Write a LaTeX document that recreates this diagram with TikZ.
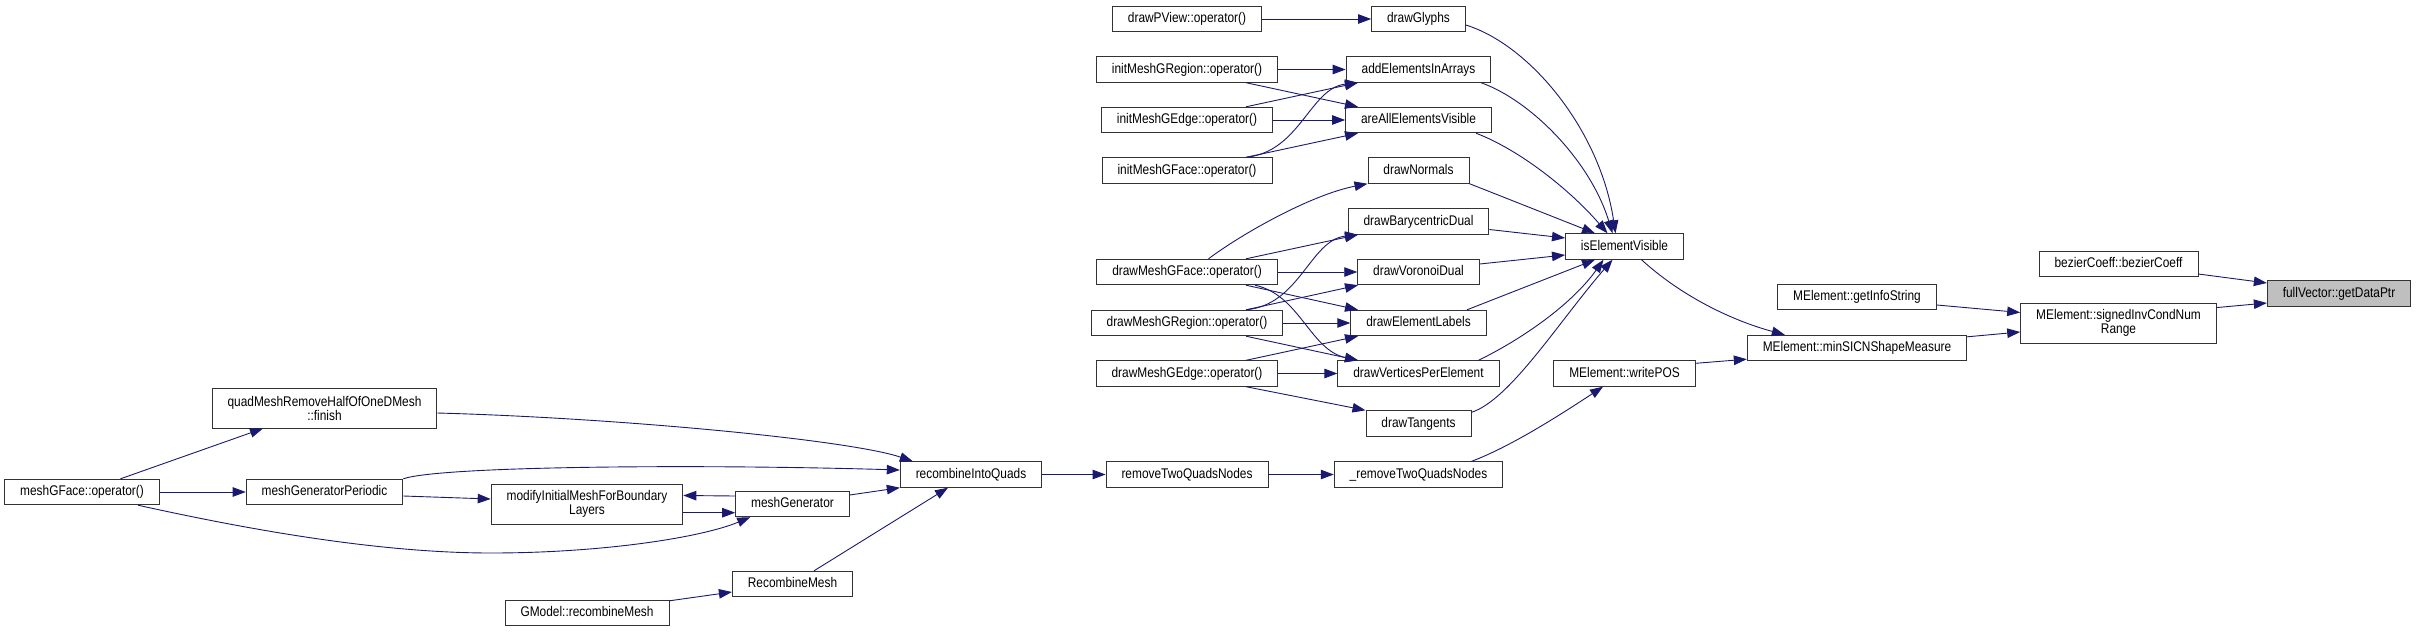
\documentclass[tikz,border=0pt]{standalone}
\usepackage{fontspec}
\setmainfont{Liberation Sans}[FakeStretch=0.85]
\usepackage{tikz}
\usetikzlibrary{positioning,arrows.meta,calc}
\definecolor{midnight}{HTML}{191970}

\begin{document}
\begin{tikzpicture}[
  x=1pt,y=-1pt,
  font=\fontsize{14}{14}\selectfont,>={Triangle[length=13pt,width=9.5pt]},
  fbase/.style={draw=black!80,fill=white,line width=0.9pt,inner xsep=15.5pt},
  func/.style={fbase,minimum height=25.5pt,inner ysep=0pt,text height=10pt,text depth=3pt},
  func2/.style={fbase,align=center,minimum height=40pt,inner ysep=5pt},
  hl/.style={fill=black!25},
  call/.style={->,draw=midnight,line width=0.9pt},
]
  \useasboundingbox (0,0) rectangle (2417,632);

  \node[func] (pview) at (1187,19) {drawPView::operator()};
  \node[func] (glyphs) at (1418.5,19) {drawGlyphs};
  \node[func] (imgr) at (1187,69.5) {initMeshGRegion::operator()};
  \node[func] (addel) at (1418.5,69.5) {addElementsInArrays};
  \node[func] (imge) at (1187,120) {initMeshGEdge::operator()};
  \node[func] (allvis) at (1418.5,120) {areAllElementsVisible};
  \node[func] (imgf) at (1187,170.5) {initMeshGFace::operator()};
  \node[func] (normals) at (1418.5,170.5) {drawNormals};
  \node[func] (bary) at (1418.5,221.5) {drawBarycentricDual};
  \node[func] (dmgf) at (1187,272) {drawMeshGFace::operator()};
  \node[func] (voro) at (1418.5,272) {drawVoronoiDual};
  \node[func] (dmgr) at (1187,323) {drawMeshGRegion::operator()};
  \node[func] (labels) at (1418.5,323) {drawElementLabels};
  \node[func] (dmge) at (1187,373.5) {drawMeshGEdge::operator()};
  \node[func] (verts) at (1418.5,373.5) {drawVerticesPerElement};
  \node[func] (tang) at (1418.5,423.5) {drawTangents};
  \node[func] (isvis) at (1624.5,246.5) {isElementVisible};
  \node[func] (wpos) at (1624.5,373.5) {MElement::writePOS};
  \node[func] (info) at (1857,297) {MElement::getInfoString};
  \node[func] (sicnmin) at (1857,348) {MElement::minSICNShapeMeasure};
  \node[func] (bez) at (2118.5,264) {bezierCoeff::bezierCoeff};
  \node[func2] (sicn) at (2118.5,323) {MElement::signedInvCondNum\\Range};
  \node[func,hl] (fvec) at (2339,293.5) {fullVector::getDataPtr};

  \node[func] (mgf) at (82,492) {meshGFace::operator()};
  \node[func2] (qmf) at (324.5,408) {quadMeshRemoveHalfOfOneDMesh\\::finish};
  \node[func] (mgp) at (324.5,492) {meshGeneratorPeriodic};
  \node[func2] (modbl) at (587,504) {modifyInitialMeshForBoundary\\Layers};
  \node[func] (gmrm) at (587,613) {GModel::recombineMesh};
  \node[func] (mgen) at (792.5,504) {meshGenerator};
  \node[func] (recm) at (792.5,584) {RecombineMesh};
  \node[func] (riq) at (971,474.5) {recombineIntoQuads};
  \node[func] (rtq) at (1187,474.5) {removeTwoQuadsNodes};
  \node[func] (rtqb) at (1418.5,474.5) {\_removeTwoQuadsNodes};

  \draw[call] (pview) -- (glyphs);
  \draw[call] (imgr) -- (addel);
  \draw[call] ($(imgr.south)+(59,0)$) -- ($(allvis.north)+(-60.5,0)$);
  \draw[call] ($(imge.north)+(59,0)$) -- ($(addel.south)+(-60.5,0)$);
  \draw[call] (imge) -- (allvis);
  \draw[call] ($(imgf.north)+(59,0)$) .. controls (1300,152) and (1310,88) .. ($(addel.south)+(-60.5,0)$);
  \draw[call] ($(imgf.north)+(59,0)$) -- ($(allvis.south)+(-60.5,0)$);
  \draw[call] ($(dmgf.north)+(21.5,0)$) .. controls (1240,235) and (1310,195) .. (normals.south west);
  \draw[call] ($(dmgf.north)+(59,0)$) -- ($(bary.south)+(-60.5,0)$);
  \draw[call] (dmgf) -- (voro);
  \draw[call] ($(dmgf.south)+(59,0)$) -- ($(labels.north)+(-60.5,0)$);
  \draw[call] ($(dmgf.south)+(68,0)$) .. controls (1300,295) and (1310,350) .. ($(verts.north)+(-60.5,0)$);
  \draw[call] ($(dmgr.north)+(59,0)$) .. controls (1300,305) and (1310,240) .. ($(bary.south)+(-60.5,0)$);
  \draw[call] ($(dmgr.north)+(59,0)$) -- ($(voro.south)+(-60.5,0)$);
  \draw[call] (dmgr) -- (labels);
  \draw[call] ($(dmgr.south)+(59,0)$) -- ($(verts.north)+(-60.5,0)$);
  \draw[call] ($(dmge.north)+(59,0)$) -- ($(labels.south)+(-60.5,0)$);
  \draw[call] (dmge) -- (verts);
  \draw[call] ($(dmge.south)+(59,0)$) -- (tang.north west);

  \draw[call] ($(glyphs.east)+(0,6)$) .. controls (1530,45) and (1600,130) .. ($(isvis.north)+(-9,0)$);
  \draw[call] ($(addel.south)+(62.5,0)$) .. controls (1530,100) and (1590,160) .. ($(isvis.north)+(-12,0)$);
  \draw[call] ($(allvis.south)+(57.5,0)$) .. controls (1520,150) and (1570,190) .. ($(isvis.north)+(-17,0)$);
  \draw[call] (normals.south east) -- ($(isvis.north west)+(30,0)$);
  \draw[call] ($(bary.east)+(0,8)$) -- ($(isvis.west)+(0,-8.5)$);
  \draw[call] ($(voro.east)+(0,-8)$) -- ($(isvis.west)+(0,8.5)$);
  \draw[call] ($(labels.north)+(48.5,0)$) -- ($(isvis.south)+(-29.5,0)$);
  \draw[call] ($(verts.north)+(60,0)$) .. controls (1530,335) and (1575,300) .. ($(isvis.south)+(-21,0)$);
  \draw[call] ($(tang.north east)+(0,2)$) .. controls (1510,400) and (1560,320) .. ($(isvis.south)+(-12,0)$);

  \draw[call] ($(isvis.south)+(17,0)$) .. controls (1680,295) and (1730,320) .. ($(sicnmin.north west)+(38,0)$);
  \draw[call] ($(wpos.north east)+(0,3)$) -- ($(sicnmin.south west)+(0,-2)$);
  \draw[call] ($(rtqb.north)+(53,0)$) .. controls (1510,447) and (1560,415) .. ($(wpos.south)+(-21.5,0)$);
  \draw[call] (rtq) -- (rtqb);
  \draw[call] (riq) -- (rtq);

  \draw[call] ($(mgf.north)+(38.5,0)$) -- ($(qmf.south)+(-61.5,0)$);
  \draw[call] (mgf) -- (mgp);
  \draw[call] ($(mgf.south)+(56,0)$) .. controls (250,530) and (380,553) .. (491,553)
    .. controls (600,553) and (700,538) .. ($(mgen.south west)+(15,0)$);
  \draw[call] (mgp.north east) .. controls (440,466) and (700,464) .. ($(riq.west)+(0,-4.5)$);
  \draw[call] ($(qmf.east)+(0,5)$) .. controls (620,418) and (850,440) .. ($(riq.north west)+(13,0)$);
  \draw[call] ($(mgp.east)+(0,4)$) -- ($(modbl.west)+(0,-5)$);
  \draw[call] ($(mgen.west)+(0,-8)$) -- ($(modbl.east)+(0,-8.5)$);
  \draw[call] ($(modbl.east)+(0,8.7)$) -- ($(mgen.west)+(0,8.7)$);
  \draw[call] ($(mgen.east)+(0,-9)$) -- (riq.south west);
  \draw[call] ($(recm.north)+(21.5,0)$) -- ($(riq.south)+(-23,0)$);
  \draw[call] ($(gmrm.north east)+(0,1)$) -- ($(recm.west)+(0,8)$);

  \draw[call] ($(sicnmin.north east)+(0,2)$) -- ($(sicn.west)+(0,9)$);
  \draw[call] ($(info.east)+(0,8)$) -- ($(sicn.west)+(0,-10.5)$);
  \draw[call] ($(sicn.north east)+(0,5)$) -- ($(fvec.west)+(0,9.5)$);
  \draw[call] ($(bez.east)+(0,10)$) -- ($(fvec.west)+(0,-10.5)$);
\end{tikzpicture}
\end{document}
